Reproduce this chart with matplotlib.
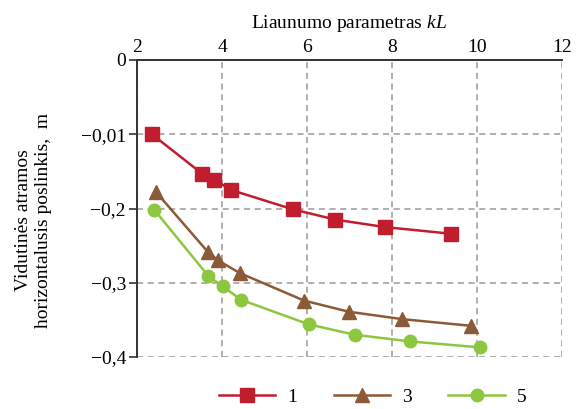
import matplotlib
matplotlib.use("Agg")
import matplotlib.pyplot as plt

plt.rcParams['font.family'] = ['Liberation Serif', 'DejaVu Serif']
plt.rcParams['mathtext.fontset'] = 'custom'
plt.rcParams['mathtext.rm'] = 'Liberation Serif'
plt.rcParams['mathtext.it'] = 'Liberation Serif:italic'

kL_1 = [2.35, 3.53, 3.82, 4.21, 5.66, 6.67, 7.83, 9.39]
disp_1 = [-0.100, -0.153, -0.161, -0.175, -0.201, -0.215, -0.225, -0.234]
kL_3 = [2.45, 3.66, 3.91, 4.42, 5.93, 6.98, 8.24, 9.86]
disp_3 = [-0.178, -0.258, -0.270, -0.287, -0.324, -0.339, -0.349, -0.358]
kL_5 = [2.41, 3.68, 4.02, 4.45, 6.04, 7.12, 8.42, 10.07]
disp_5 = [-0.202, -0.291, -0.305, -0.323, -0.356, -0.370, -0.379, -0.387]

x_ticks = [2, 4, 6, 8, 10, 12]
y_ticks = [0, -0.1, -0.2, -0.3, -0.4]
y_tick_labels = ['0', '\u22120,01', '\u22120,2', '\u22120,3', '\u22120,4']
series_labels = ['1', '3', '5']

fig = plt.figure(figsize=(5.8, 4.09), dpi=100)
ax = fig.add_axes([137/580, 1-357/409, (562-137)/580, (357-60)/409])

c1, c3, c5 = '#C01E2E', '#8C5A36', '#8DC63F'
ax.plot(kL_1, disp_1, color=c1, lw=1.8, marker='s', ms=9.5, label=series_labels[0], zorder=3)
ax.plot(kL_3, disp_3, color=c3, lw=1.8, marker='^', ms=9.5, label=series_labels[1], zorder=3)
ax.plot(kL_5, disp_5, color=c5, lw=1.8, marker='o', ms=9, label=series_labels[2], zorder=3)

ax.set_xlim(2, 12)
ax.set_ylim(-0.4, 0)
ax.xaxis.tick_top()
ax.xaxis.set_label_position('top')
ax.set_xticks(x_ticks)
ax.set_yticks(y_ticks)
ax.set_yticklabels(y_tick_labels)
ax.tick_params(axis='x', length=0, pad=3, labelsize=14)
ax.tick_params(axis='y', length=6, width=1.2, direction='out', pad=2, labelsize=14, color='#333333')
ax.set_xlabel('Liaunumo parametras $\\mathit{kL}$', fontsize=14, labelpad=8)
fig.text(0.058, (409-220)/409, 'Vidutinės atramos\nhorizontalusis poslinkis,  m',
         rotation=90, ha='center', va='center', fontsize=14, linespacing=1.2)

ax.grid(True, linestyle=(0, (4, 3)), color='#9a9a9a', lw=1.1)
for s in ['right', 'bottom']:
    ax.spines[s].set_visible(False)
for s in ['left', 'top']:
    ax.spines[s].set_color('#333333')
    ax.spines[s].set_linewidth(1.4)
ax.set_axisbelow(True)

leg = fig.legend(loc='lower center', bbox_to_anchor=(0.642, -0.035), ncol=3, frameon=False,
                 fontsize=14, handlelength=2.9, columnspacing=1.9, handletextpad=0.6)

fig.savefig('out.png', dpi=100)
